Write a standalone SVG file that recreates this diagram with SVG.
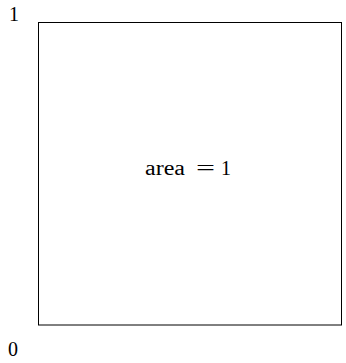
<svg xmlns="http://www.w3.org/2000/svg" width="346" height="363" viewBox="0 0 346 363">
<style>
text{font-family:"Liberation Serif","DejaVu Serif",serif;font-size:20px;fill:#000}
.box{fill:#fff;stroke:#000;stroke-width:1}
</style>
<rect width="346" height="363" fill="#fff"/>
<g id="square">
<rect class="box" x="38.5" y="22.5" width="303" height="302.5"/>
<text y="175"><tspan x="145" textLength="40" lengthAdjust="spacingAndGlyphs">area</tspan><tspan x="196" textLength="19" lengthAdjust="spacingAndGlyphs">=</tspan><tspan x="221">1</tspan></text>
</g>
<g id="label-1"><text x="14" y="21" text-anchor="middle">1</text></g>
<g id="label-0"><text x="13" y="356" text-anchor="middle">0</text></g>
</svg>
